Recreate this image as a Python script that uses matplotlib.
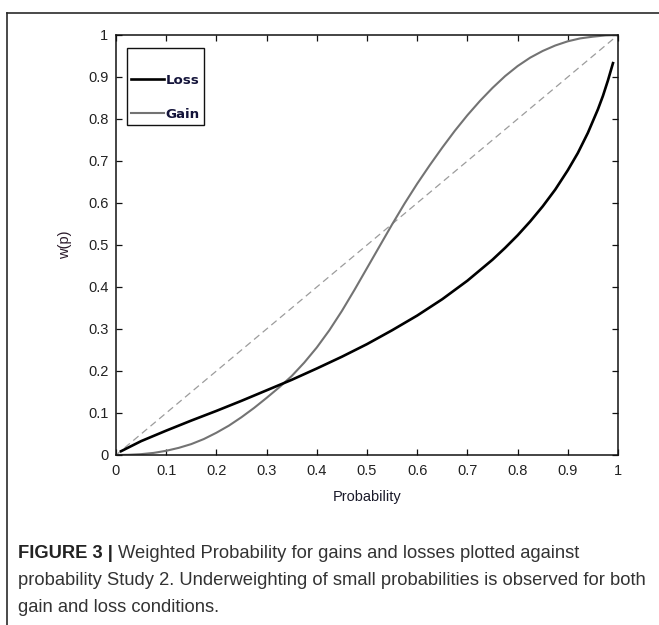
import matplotlib
matplotlib.use('Agg')
import matplotlib.pyplot as plt
from matplotlib.lines import Line2D

# ---------------- data ----------------
prob_loss = [0.01, 0.05, 0.10, 0.15, 0.20, 0.25, 0.30, 0.35, 0.40, 0.45, 0.50,
             0.55, 0.60, 0.65, 0.70, 0.75, 0.775, 0.80, 0.825, 0.85, 0.875, 0.90,
             0.92, 0.94, 0.96, 0.97, 0.98, 0.99]
w_loss = [0.009, 0.033, 0.058, 0.082, 0.105, 0.129, 0.154, 0.179, 0.206, 0.234, 0.264,
          0.297, 0.332, 0.371, 0.415, 0.465, 0.493, 0.523, 0.556, 0.592, 0.632, 0.678,
          0.719, 0.767, 0.823, 0.855, 0.892, 0.933]

prob_gain = [0.0, 0.025, 0.05, 0.075, 0.10, 0.125, 0.15, 0.175, 0.20, 0.225, 0.25,
             0.275, 0.30, 0.325, 0.35, 0.375, 0.40, 0.425, 0.45, 0.475, 0.50,
             0.525, 0.55, 0.575, 0.60, 0.625, 0.65, 0.675, 0.70, 0.725, 0.75,
             0.775, 0.80, 0.825, 0.85, 0.875, 0.90, 0.925, 0.95, 0.975, 1.0]
w_gain = [0.0, 0.0005, 0.002, 0.005, 0.010, 0.017, 0.026, 0.038, 0.053, 0.070, 0.090,
          0.112, 0.136, 0.161, 0.188, 0.220, 0.256, 0.297, 0.343, 0.393, 0.445,
          0.497, 0.549, 0.599, 0.646, 0.690, 0.732, 0.772, 0.809, 0.843, 0.874,
          0.902, 0.926, 0.946, 0.962, 0.975, 0.985, 0.992, 0.996, 0.999, 1.0]

identity = [0.0, 1.0]

x_ticks = [0, 0.1, 0.2, 0.3, 0.4, 0.5, 0.6, 0.7, 0.8, 0.9, 1]
x_tick_labels = ['0', '0.1', '0.2', '0.3', '0.4', '0.5', '0.6', '0.7', '0.8', '0.9', '1']
y_ticks = [0, 0.1, 0.2, 0.3, 0.4, 0.5, 0.6, 0.7, 0.8, 0.9, 1]
y_tick_labels = ['0', '0.1', '0.2', '0.3', '0.4', '0.5', '0.6', '0.7', '0.8', '0.9', '1']

series_labels = ['Loss', 'Gain']
x_label = 'Probability'
y_label = 'w(p)'

caption_bold = 'FIGURE 3 |'
caption_lines = ['Weighted Probability for gains and losses plotted against',
                 'probability Study 2. Underweighting of small probabilities is observed for both',
                 'gain and loss conditions.']

# ---------------- figure ----------------
W, H = 659, 625
fig = plt.figure(figsize=(W / 100, H / 100), dpi=100)
fig.patch.set_facecolor('white')

ax = fig.add_axes([116 / W, 1 - 455 / H, 502 / W, 420 / H])

ax.plot(identity, identity, color='#9c9c9c', lw=0.9, dashes=(5.5, 3.5))
gain_line, = ax.plot(prob_gain, w_gain, color='#737373', lw=1.5)
loss_line, = ax.plot(prob_loss, w_loss, color='#000000', lw=1.9)

ax.set_xlim(0, 1)
ax.set_ylim(0, 1)
ax.set_xticks(x_ticks)
ax.set_xticklabels(x_tick_labels)
ax.set_yticks(y_ticks)
ax.set_yticklabels(y_tick_labels)

tick_font = 'Liberation Sans'
for lab in ax.get_xticklabels() + ax.get_yticklabels():
    lab.set_fontfamily(tick_font)
ax.tick_params(axis='both', direction='in', top=True, right=True, length=4,
               width=0.9, labelsize=10.5, labelcolor='#222222', color='#111111')
ax.tick_params(axis='x', pad=6.5)
ax.tick_params(axis='y', pad=5.5)
for sp in ax.spines.values():
    sp.set_linewidth(1.1)
    sp.set_color('#111111')

ax.set_xlabel(x_label, fontfamily=tick_font, fontsize=10.5, color='#1a1a2a')
ax.xaxis.set_label_coords(0.5, (455 - 490) / 420)
ax.set_ylabel(y_label, fontfamily=tick_font, fontsize=10.5, color='#2a1a2a')
ax.yaxis.set_label_coords((72 - 116) / 502, 0.5)

leg = ax.legend([loss_line, gain_line], series_labels, loc='upper left',
                bbox_to_anchor=((127 - 116) / 502, (455 - 48) / 420),
                borderaxespad=0, frameon=True, fancybox=False, shadow=False,
                framealpha=1, edgecolor='#111111',
                prop={'family': 'DejaVu Sans', 'weight': 'bold', 'size': 9.6},
                handlelength=2.45, handletextpad=0.1, labelspacing=1.55,
                borderpad=0.32, title=' ', title_fontsize=1)
leg.get_frame().set_linewidth(1.0)
for t in leg.get_texts():
    t.set_color('#14143a')

# outer frame of the figure panel (cut off at right and bottom)
fig.add_artist(Line2D([7 / W, 1.0], [1 - 13 / H, 1 - 13 / H],
                      transform=fig.transFigure, color='#2a2a2a', lw=1.2))
fig.add_artist(Line2D([7 / W, 7 / W], [1 - 13 / H, 0.0],
                      transform=fig.transFigure, color='#2a2a2a', lw=1.2))

# ---------------- caption ----------------
cap_font = 'Liberation Sans'
renderer = fig.canvas.get_renderer()
base = 12
probe = fig.text(18 / W, 1 - 585 / H, caption_lines[1], fontfamily=cap_font,
                 fontsize=base, color='#333333', va='baseline')
wpx = probe.get_window_extent(renderer).width
cap_size = base * 627 / wpx
probe.set_fontsize(cap_size)

bold = fig.text(18 / W, 1 - 558 / H, caption_bold, fontfamily=cap_font,
                fontsize=cap_size, weight='bold', color='#222222', va='baseline')
bb = bold.get_window_extent(renderer)
fig.text((bb.x1 + 0.3 * cap_size * 100 / 72) / W, 1 - 558 / H, caption_lines[0],
         fontfamily=cap_font, fontsize=cap_size, color='#333333', va='baseline')
fig.text(18 / W, 1 - 612 / H, caption_lines[2], fontfamily=cap_font,
         fontsize=cap_size, color='#333333', va='baseline')

fig.savefig('out.png', dpi=100)
